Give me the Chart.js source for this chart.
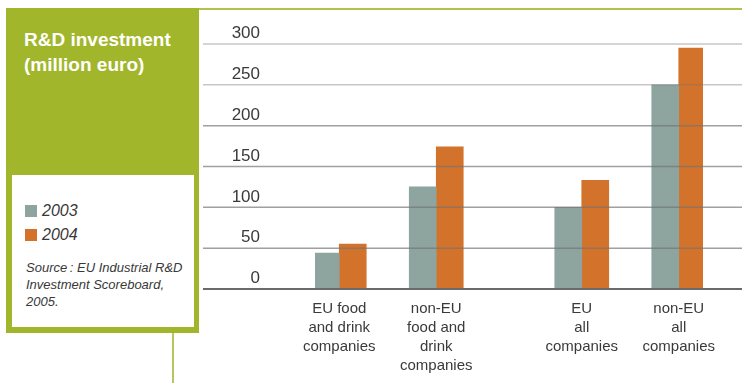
<!DOCTYPE html>
<html>
<head>
<meta charset="utf-8">
<title>R&amp;D investment</title>
<script src="https://cdn.jsdelivr.net/npm/chart.js@4.4.0/dist/chart.umd.min.js"></script>
<style>
    body {
        margin: 0;
        width: 742px;
        height: 383px;
        position: relative;
        overflow: hidden;
        background: #fff;
        font-family: "Liberation Sans", Arial, sans-serif;
    }
    #chart-wrap {
        position: absolute;
        left: 0;
        top: 0;
        width: 742px;
        height: 383px;
    }
    .top-rule {
        position: absolute;
        left: 199px;
        top: 8px;
        width: 543px;
        height: 2px;
        background: #aec44e;
    }
    .stem {
        position: absolute;
        left: 172px;
        top: 333px;
        width: 2px;
        height: 50px;
        background: #b3c75c;
    }
    .panel {
        position: absolute;
        left: 6px;
        top: 8px;
        width: 193px;
        height: 325px;
        background: #a1b62b;
    }
    .panel-title {
        position: absolute;
        left: 18px;
        top: 19px;
        margin: 0;
        color: #fff;
        font-size: 19px;
        font-weight: bold;
        line-height: 25px;
    }
    .panel-box {
        position: absolute;
        left: 6px;
        top: 167px;
        width: 182px;
        height: 152px;
        background: #fff;
    }
    #legend {
        position: absolute;
        left: 13px;
        top: 24px;
        margin: 0;
        padding: 0;
        list-style: none;
    }
    #legend li {
        display: flex;
        align-items: center;
        height: 24px;
        font-size: 16px;
        font-style: italic;
        color: #383838;
    }
    #legend span {
        display: inline-block;
        width: 12px;
        height: 12px;
        margin-right: 5px;
    }
    .source {
        position: absolute;
        left: 14px;
        top: 84px;
        margin: 0;
        font-size: 13px;
        font-style: italic;
        line-height: 17px;
        color: #383838;
        white-space: nowrap;
    }
</style>
</head>
<body>
<div id="chart-wrap"><canvas id="investment"></canvas></div>
<div class="top-rule"></div>
<div class="stem"></div>
<div class="panel">
    <p class="panel-title">R&amp;D investment<br>(million euro)</p>
    <div class="panel-box">
        <ul id="legend"></ul>
        <p class="source">Source&#8201;: EU Industrial R&amp;D<br>Investment Scoreboard,<br>2005.</p>
    </div>
</div>
<script>
// Data
const categories = [
    ['EU food', 'and drink', 'companies'],
    ['non-EU', 'food and', 'drink', 'companies'],
    ['EU', 'all', 'companies'],
    ['non-EU', 'all', 'companies']
];
const years = ['2003', '2004'];
const values2003 = [44, 125, 100, 250];
const values2004 = [55, 174, 133, 295];
const yTicks = [0, 50, 100, 150, 200, 250, 300];

const colors = ['#8ea49f', '#d3732b'];

// food & drink pairs and all-company pairs sit apart, so spread them over half-width slots
const slotCount = 8;
const slotIndex = [0, 2, 5, 7];

function spread(list, empty) {
    let out = new Array(slotCount).fill(empty);
    list.forEach((item, i) => out[slotIndex[i]] = item);
    return out;
}

// Legend in the side panel
function showLegend() {
    let legend = document.getElementById('legend');
    let innerHTML = '';
    years.forEach((year, i) => {
        innerHTML += `<li><span style="background:${colors[i]}"></span>${year}</li>`;
    });
    legend.innerHTML = innerHTML;
}

// Horizontal rules are drawn over the bars and run out under the axis labels
const gridOnTop = {
    id: 'gridOnTop',
    afterDatasetsDraw(chart) {
        const ctx = chart.ctx;
        const y = chart.scales.y;
        ctx.save();
        y.ticks.forEach((tick, i) => {
            const py = y.getPixelForValue(tick.value);
            if (tick.value === 0) {
                ctx.strokeStyle = '#6a6a6a';
                ctx.lineWidth = 2;
            } else {
                const fade = i >= y.ticks.length - 2 ? 0.4 : 0.68;
                ctx.strokeStyle = `rgba(115,115,115,${fade})`;
                ctx.lineWidth = 1.5;
            }
            ctx.beginPath();
            ctx.moveTo(203, py);
            ctx.lineTo(chart.width, py);
            ctx.stroke();
        });
        ctx.restore();
    }
};

// Chart JS
function loadChart() {
    const ctx = document.getElementById('investment');
    new Chart(ctx, {
        type: 'bar',
        data: {
            labels: spread(categories, ''),
            datasets: [{
                label: years[0],
                data: spread(values2003, null),
                backgroundColor: colors[0],
                barThickness: 27
            },
            {
                label: years[1],
                data: spread(values2004, null),
                backgroundColor: colors[1],
                barThickness: 27
            }]
        },
        options: {
            responsive: true,
            maintainAspectRatio: false,
            animation: false,
            layout: {
                padding: { left: 0, right: 39, top: 44, bottom: 0 }
            },
            plugins: {
                legend: { display: false },
                tooltip: { enabled: false }
            },
            scales: {
                x: {
                    grid: { display: false, drawTicks: false },
                    border: { display: false },
                    afterFit: scale => {
                        scale.height = 94;
                        scale.paddingLeft = 0;
                        scale.paddingRight = 0;
                    },
                    ticks: {
                        autoSkip: false,
                        maxRotation: 0,
                        padding: 10,
                        color: '#3a3a3a',
                        font: { family: '"Liberation Sans", Arial, sans-serif', size: 15, lineHeight: 1.28 }
                    }
                },
                y: {
                    min: 0,
                    max: 300,
                    grid: { display: false, drawTicks: false },
                    border: { display: false },
                    afterFit: scale => {
                        scale.width = 315;
                        scale.paddingTop = 0;
                        scale.paddingBottom = 0;
                    },
                    afterBuildTicks: scale => { scale.ticks = yTicks.map(v => ({ value: v })); },
                    ticks: {
                        padding: 55,
                        labelOffset: -10.5,
                        color: '#3a3a3a',
                        font: { family: '"Liberation Sans", Arial, sans-serif', size: 17 }
                    }
                }
            }
        },
        plugins: [gridOnTop]
    });
}

showLegend();
loadChart();
</script>
</body>
</html>
